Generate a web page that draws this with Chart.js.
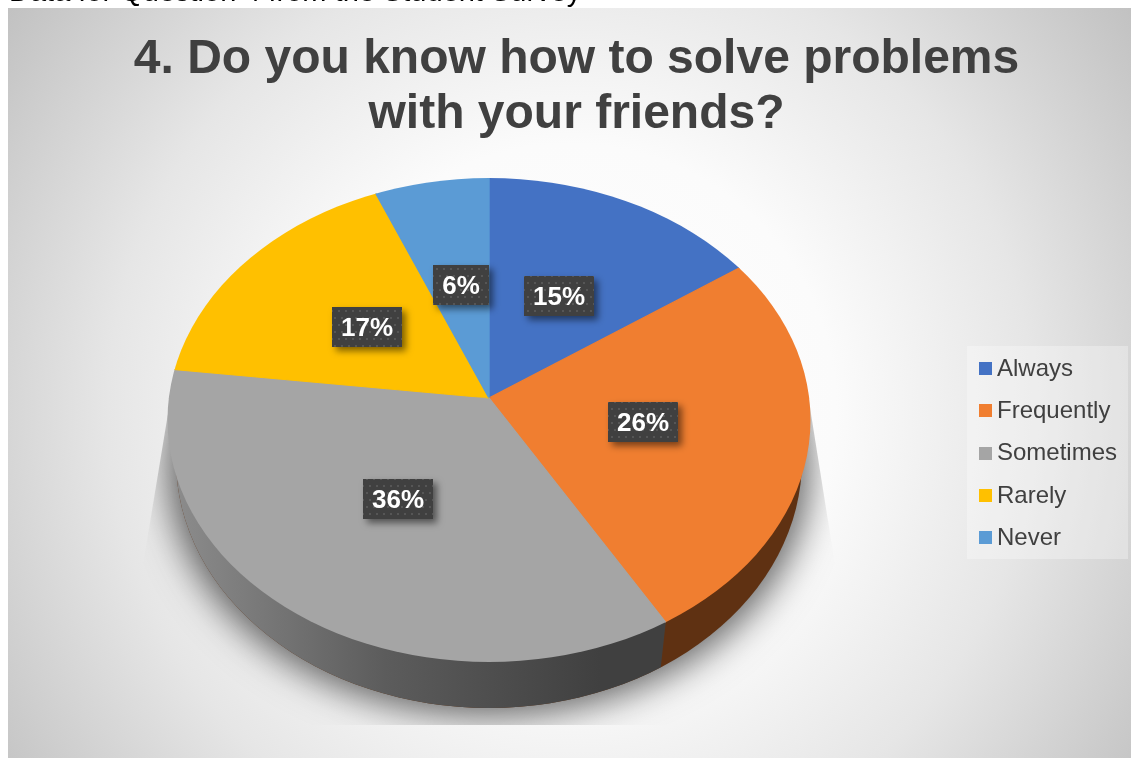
<!DOCTYPE html>
<html>
<head>
<meta charset="utf-8">
<title>Student survey question 4</title>
<script src="https://cdn.jsdelivr.net/npm/chart.js@4/dist/chart.umd.min.js"></script>
<style>
  html, body { margin: 0; padding: 0; background: #fff; overflow: hidden; }
  canvas { display: block; }
</style>
</head>
<body>
<canvas id="pie" width="1131" height="758"></canvas>
<script>
// chart data
const categories = ['Always', 'Frequently', 'Sometimes', 'Rarely', 'Never'];
const percents = [15, 26, 36, 17, 6];
const sliceColors = ['#4472c4', '#f07e30', '#a5a5a5', '#ffc000', '#5b9bd5'];
const titleLines = ['4. Do you know how to solve problems', 'with your friends?'];
const caption = 'Data for Question 4 from the Student Survey';

// 3D look of the pie: wedges meet at the apex, the rim is an ellipse around a lower centre
const apex = { x: 489, y: 398 };
const topFace = { x: 489, y: 420, rx: 321.5, ry: 242 };
const baseFace = { x: 489, y: 460, rx: 313, ry: 248 };
const stretch = { x: 321.5, up: 230, down: 259, over: 1.3 };
const labelBoxes = { w: 70, h: 40 };
const labelNudge = [[-2, 0], [-1, 2], [-7, 1], [2, -1], [2, -1]];
const sansFont = '"Liberation Sans", Arial, sans-serif';

function ellipsePath(ctx, e) {
  ctx.beginPath();
  ctx.ellipse(e.x, e.y, e.rx, e.ry, 0, 0, Math.PI * 2);
}

// point where a wedge edge meets the rim of the top face
function rimPoint(angle) {
  const below = Math.sin(angle) > 0;
  const dx = Math.cos(angle) * stretch.x;
  const dy = Math.sin(angle) * (below ? stretch.down : stretch.up);
  for (let k = 0.5; k < 1.5; k += 0.002) {
    const px = (apex.x + dx * k - topFace.x) / topFace.rx;
    const py = (apex.y + dy * k - topFace.y) / topFace.ry;
    if (px * px + py * py >= 1) return { x: apex.x + dx * k, y: apex.y + dy * k };
  }
  return { x: apex.x + dx, y: apex.y + dy };
}

function drawBackground(ctx) {
  ctx.fillStyle = '#fff';
  ctx.fillRect(0, 0, 1131, 758);
  ctx.fillStyle = '#000';
  ctx.font = '29px ' + sansFont;
  ctx.textAlign = 'left';
  ctx.textBaseline = 'alphabetic';
  ctx.fillText(caption, 9, 1);

  const bg = ctx.createRadialGradient(570, 410, 0, 570, 410, 700);
  bg.addColorStop(0, '#ffffff');
  bg.addColorStop(0.38, '#fbfbfb');
  bg.addColorStop(0.66, '#e6e6e6');
  bg.addColorStop(1, '#c0c0c0');
  ctx.fillStyle = bg;
  ctx.fillRect(8, 8, 1123, 750);
}

function drawShadow(ctx) {
  ctx.save();
  ctx.beginPath();
  ctx.moveTo(176, 365);
  ctx.lineTo(143, 565);
  ctx.lineTo(143, 725);
  ctx.lineTo(835, 725);
  ctx.lineTo(835, 565);
  ctx.lineTo(808, 395);
  ctx.closePath();
  ctx.clip();
  ctx.shadowColor = 'rgba(0,0,0,0.6)';
  ctx.shadowBlur = 36;
  ctx.shadowOffsetX = 2000;
  ctx.shadowOffsetY = 6;
  ctx.fillStyle = '#000';
  ellipsePath(ctx, { x: 489 - 2000, y: baseFace.y, rx: baseFace.rx + 8, ry: baseFace.ry + 2 });
  ctx.fill();
  ctx.restore();
}

function drawWall(ctx, arcs) {
  // the Frequently part of the side goes right of the divider, the Sometimes part left of it
  const edge = rimPoint(arcs[1].endAngle);
  ctx.save();
  ellipsePath(ctx, baseFace);
  ctx.fillStyle = '#5f3112';
  ctx.fill();
  ctx.beginPath();
  ctx.moveTo(edge.x + 5, edge.y - 45);
  ctx.lineTo(edge.x - 5, edge.y + 45);
  ctx.lineTo(edge.x - 5, 758);
  ctx.lineTo(0, 758);
  ctx.lineTo(0, 0);
  ctx.lineTo(edge.x + 5, 0);
  ctx.closePath();
  ctx.clip();
  const wall = ctx.createLinearGradient(170, 0, 600, 0);
  wall.addColorStop(0, '#8d8d8d');
  wall.addColorStop(0.5, '#5c5c5c');
  wall.addColorStop(1, '#404040');
  ctx.fillStyle = wall;
  ellipsePath(ctx, baseFace);
  ctx.fill();
  ctx.restore();
}

function drawFace(ctx, arcs) {
  const R = arcs[0].outerRadius;
  const parts = [
    { clipY: 0, clipH: apex.y + 0.5, sy: stretch.up },
    { clipY: apex.y - 0.5, clipH: 758, sy: stretch.down }
  ];
  ctx.save();
  ellipsePath(ctx, topFace);
  ctx.clip();
  parts.forEach(p => {
    ctx.save();
    ctx.beginPath();
    ctx.rect(0, p.clipY, 1131, p.clipH);
    ctx.clip();
    ctx.translate(apex.x, apex.y);
    ctx.scale(stretch.x * stretch.over / R, p.sy * stretch.over / R);
    ctx.translate(-arcs[0].x, -arcs[0].y);
    arcs.forEach(a => a.draw(ctx));
    ctx.restore();
  });
  ctx.restore();
}

function dotPattern(ctx) {
  const tile = document.createElement('canvas');
  tile.width = 14;
  tile.height = 14;
  const t = tile.getContext('2d');
  t.fillStyle = '#404040';
  t.fillRect(0, 0, 14, 14);
  t.fillStyle = '#565656';
  t.fillRect(2, 2, 2, 2);
  t.fillRect(9, 2, 2, 2);
  t.fillRect(5, 9, 2, 2);
  t.fillRect(12, 9, 2, 2);
  return ctx.createPattern(tile, 'repeat');
}

function drawLabels(ctx, arcs) {
  const pattern = dotPattern(ctx);
  arcs.forEach((a, i) => {
    const mid = (a.startAngle + a.endAngle) / 2;
    const below = Math.sin(mid) > 0;
    const cx = apex.x + Math.cos(mid) * stretch.x * 0.49 + labelNudge[i][0];
    const cy = apex.y + Math.sin(mid) * (below ? 264 * 0.45 : 220 * 0.52) + labelNudge[i][1];
    const x = Math.round(cx - labelBoxes.w / 2);
    const y = Math.round(cy - labelBoxes.h / 2);
    const w = percents[i] < 10 ? 56 : labelBoxes.w;
    ctx.save();
    ctx.shadowColor = 'rgba(0,0,0,0.5)';
    ctx.shadowBlur = 7;
    ctx.shadowOffsetX = 4;
    ctx.shadowOffsetY = 4;
    ctx.fillStyle = pattern;
    ctx.fillRect(x + (labelBoxes.w - w) / 2, y, w, labelBoxes.h);
    ctx.restore();
    ctx.fillStyle = '#fff';
    ctx.font = 'bold 26px ' + sansFont;
    ctx.textAlign = 'center';
    ctx.textBaseline = 'middle';
    ctx.fillText(percents[i] + '%', x + labelBoxes.w / 2, y + labelBoxes.h / 2 + 2);
  });
}

function drawLegend(ctx) {
  ctx.fillStyle = 'rgba(255,255,255,0.3)';
  ctx.fillRect(967, 346, 161, 213);
  ctx.font = '24px ' + sansFont;
  ctx.textAlign = 'left';
  ctx.textBaseline = 'middle';
  categories.forEach((name, i) => {
    const y = 368 + i * 42.3;
    ctx.fillStyle = sliceColors[i];
    ctx.fillRect(979, Math.round(y - 6), 13, 13);
    ctx.fillStyle = '#404040';
    ctx.fillText(name, 997, y + 1);
  });
}

const pie3d = {
  id: 'pie3d',
  beforeDraw(chart) {
    drawBackground(chart.ctx);
  },
  beforeDatasetDraw(chart, args) {
    const ctx = chart.ctx;
    const arcs = args.meta.data;
    drawShadow(ctx);
    drawWall(ctx, arcs);
    drawFace(ctx, arcs);
    drawLabels(ctx, arcs);
    return false;
  },
  afterDraw(chart) {
    drawLegend(chart.ctx);
  }
};

new Chart(document.getElementById('pie'), {
  type: 'pie',
  data: {
    labels: categories,
    datasets: [{
      data: percents,
      backgroundColor: sliceColors,
      borderColor: sliceColors,
      borderWidth: 1
    }]
  },
  options: {
    responsive: false,
    animation: false,
    layout: { padding: { left: 22 } },
    plugins: {
      legend: { display: false },
      tooltip: { enabled: false },
      title: {
        display: true,
        text: titleLines,
        color: '#404040',
        font: { family: sansFont, size: 48, weight: 'bold', lineHeight: 1.146 },
        padding: { top: 32, bottom: 10 }
      }
    }
  },
  plugins: [pie3d]
});
</script>
</body>
</html>
